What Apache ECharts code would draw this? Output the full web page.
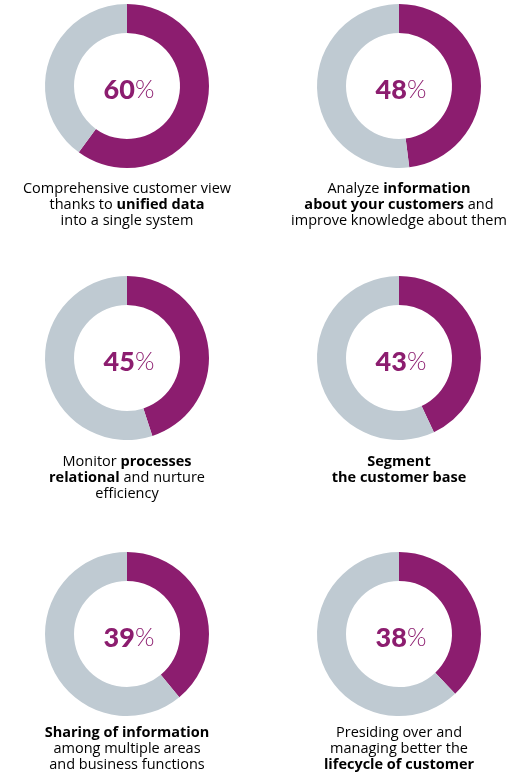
<!DOCTYPE html>
<html>
<head>
<meta charset="utf-8">
<script src="https://cdn.jsdelivr.net/npm/echarts@6/dist/echarts.min.js"></script>
<style>
  html, body { margin: 0; padding: 0; background: #ffffff; }
  #chart { width: 514px; height: 773px; }
</style>
</head>
<body>
<div id="chart"></div>
<script>
// Share of respondents citing each benefit (percent)
const shareValues = [60, 48, 45, 43, 39, 38];

// Caption under each donut; {b|...} marks the bold part
const captions = [
  '{n|Comprehensive customer view}\n{n|thanks to }{b|unified data}\n{n|into a single system}',
  '{n|Analyze }{b|information}\n{b|about your customers}{n| and}\n{n|improve knowledge about them}',
  '{n|Monitor }{b|processes}\n{b|relational}{n| and nurture}\n{n|efficiency}',
  '{b|Segment}\n{b|the customer base}',
  '{b|Sharing of information}\n{n|among multiple areas}\n{n|and business functions}',
  '{n|Presiding over and}\n{n|managing better the}\n{b|lifecycle of customer}'
];

const PURPLE = '#8c1d6f';
const GREY = '#bfcad2';
const TEXT = '#5e5e5e';

const colX = [127, 399];
const rowY = [86, 358, 634];
const captionTop = [181, 454, 725];

const chart = echarts.init(document.getElementById('chart'), null, { renderer: 'canvas' });

const series = shareValues.map(function (v, i) {
  const cx = colX[i % 2];
  const cy = rowY[Math.floor(i / 2)];
  return {
    type: 'pie',
    silent: true,
    animation: false,
    center: [cx, cy],
    radius: [53, 82],
    startAngle: 90,
    clockwise: true,
    label: { show: false },
    labelLine: { show: false },
    emphasis: { disabled: true },
    data: [
      {
        value: v,
        itemStyle: { color: PURPLE },
        label: {
          show: true,
          position: 'center',
          offset: [2, 4],
          formatter: function () { return '{v|' + v + '}{p|%}'; },
          rich: {
            v: { fontFamily: 'Lato', fontWeight: 900, fontSize: 27, color: PURPLE },
            p: { fontFamily: 'Lato', fontWeight: 300, fontSize: 25, color: PURPLE }
          }
        }
      },
      { value: 100 - v, itemStyle: { color: GREY } }
    ]
  };
});

const graphics = captions.map(function (c, i) {
  return {
    type: 'text',
    x: colX[i % 2],
    y: captionTop[Math.floor(i / 2)],
    silent: true,
    style: {
      text: c,
      align: 'center',
      verticalAlign: 'top',
      rich: {
        n: { fontFamily: 'Open Sans', fontSize: 14.5, fontWeight: 400, color: TEXT, lineHeight: 16 },
        b: { fontFamily: 'Open Sans', fontSize: 14.5, fontWeight: 700, color: TEXT, lineHeight: 16 }
      }
    }
  };
});

chart.setOption({
  backgroundColor: '#ffffff',
  animation: false,
  series: series,
  graphic: graphics
});
</script>
</body>
</html>
